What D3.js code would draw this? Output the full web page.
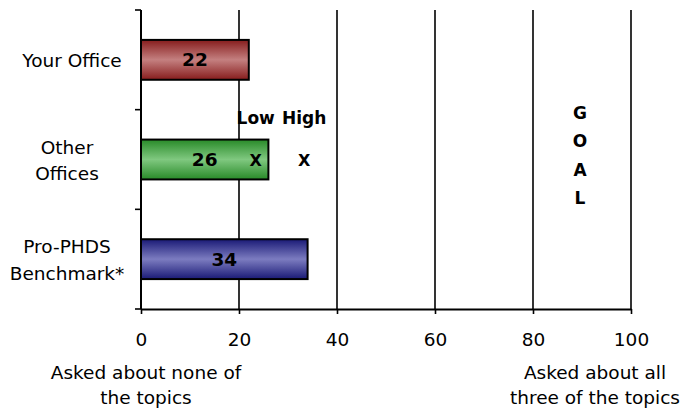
<!DOCTYPE html>
<html><head><meta charset="utf-8">
<script src="https://cdn.jsdelivr.net/npm/d3@7"></script>
<style>
body{margin:0;background:#fff;}
svg{display:block;}
text{font-family:"DejaVu Sans",sans-serif;fill:#000;}
</style></head><body>
<script>
const categories = ["Your Office", "Other Offices", "Pro-PHDS Benchmark*"];
const categoryLines = [["Your Office"], ["Other", "Offices"], ["Pro-PHDS", "Benchmark*"]];
const values = [22, 26, 34];
const xTicks = [0, 20, 40, 60, 80, 100];
const rangeMarkers = [{label: "Low", value: 23.4}, {label: "High", value: 33.3}];
const goalLetters = ["G", "O", "A", "L"];
const bottomLeft = ["Asked about none of", "the topics"];
const bottomRight = ["Asked about all", "three of the topics"];
const colors = [
  {edge: "#861c1c", mid: "#c48080"},
  {edge: "#288a28", mid: "#80c880"},
  {edge: "#1a1a76", mid: "#7c7cc0"}
];

const W = 681, H = 411;
const FS = 18.5;
const svg = d3.select("body").append("svg").attr("width", W).attr("height", H);
const x = d3.scaleLinear().domain([0, 100]).range([141, 631]);
const y = d3.scaleBand().domain(categories).range([10, 309]).paddingInner(0.6).paddingOuter(0.3);

const defs = svg.append("defs");
colors.forEach((c, i) => {
  const g = defs.append("linearGradient").attr("id", "g" + i).attr("x1", 0).attr("x2", 0).attr("y1", 0).attr("y2", 1);
  g.append("stop").attr("offset", "0%").attr("stop-color", c.edge);
  g.append("stop").attr("offset", "50%").attr("stop-color", c.mid);
  g.append("stop").attr("offset", "100%").attr("stop-color", c.edge);
});

// gridlines
svg.append("g").selectAll("line").data(xTicks.filter(d => d > 0)).join("line")
  .attr("x1", d => x(d)).attr("x2", d => x(d)).attr("y1", 10).attr("y2", 309)
  .attr("stroke", "#000").attr("stroke-width", 1.6);

// x axis
const xAxis = svg.append("g").attr("transform", "translate(0,309)")
  .call(d3.axisBottom(x).tickValues(xTicks).tickSize(5).tickSizeOuter(0));
xAxis.select(".domain").attr("stroke-width", 2);
xAxis.selectAll(".tick line").attr("stroke-width", 1.6);
xAxis.selectAll(".tick text").attr("font-size", FS).attr("font-family", "DejaVu Sans")
  .attr("y", 31).attr("dy", "0.35em");

// y axis line and ticks
const yTicks = [10, 10 + 299 / 3, 10 + 2 * 299 / 3, 309];
svg.append("line").attr("x1", x(0)).attr("x2", x(0)).attr("y1", 10).attr("y2", 309).attr("stroke", "#000").attr("stroke-width", 2);
svg.append("g").selectAll("line").data(yTicks).join("line")
  .attr("x1", x(0) - 6).attr("x2", x(0)).attr("y1", d => d).attr("y2", d => d)
  .attr("stroke", "#000").attr("stroke-width", 1.6);

// category labels
categories.forEach((c, i) => {
  const lines = categoryLines[i];
  const cy = y(c) + y.bandwidth() / 2 + 1;
  const lh = 26.5;
  const cx = lines.length === 1 ? 72 : 67;
  const t = svg.append("text").attr("text-anchor", "middle").attr("font-size", FS);
  lines.forEach((l, j) => {
    t.append("tspan").attr("x", cx).attr("y", cy + (j - (lines.length - 1) / 2) * lh).attr("dy", "0.35em").text(l);
  });
});

// bars
svg.append("g").selectAll("rect").data(values).join("rect")
  .attr("x", x(0)).attr("y", (d, i) => y(categories[i]))
  .attr("width", d => x(d) - x(0)).attr("height", y.bandwidth())
  .attr("fill", (d, i) => `url(#g${i})`).attr("stroke", "#000").attr("stroke-width", 2);

svg.append("g").selectAll("text").data(values).join("text")
  .attr("x", d => (x(0) + x(d)) / 2).attr("y", (d, i) => y(categories[i]) + y.bandwidth() / 2)
  .attr("dy", "0.36em").attr("text-anchor", "middle").attr("font-weight", "bold").attr("font-size", 18.5)
  .text(d => d);

// range markers (Other Offices)
const my = y(categories[1]) + y.bandwidth() / 2 + 1;
svg.append("g").selectAll("text").data(rangeMarkers).join("text")
  .attr("x", d => x(d.value)).attr("y", my).attr("dy", "0.36em").attr("text-anchor", "middle")
  .attr("font-weight", "bold").attr("font-size", 16).text("X");
svg.append("g").selectAll("text").data(rangeMarkers).join("text")
  .attr("x", d => x(d.value)).attr("y", 118).attr("dy", "0.36em").attr("text-anchor", "middle")
  .attr("font-weight", "bold").attr("font-size", 17).text(d => d.label);

// GOAL
svg.append("g").selectAll("text").data(goalLetters).join("text")
  .attr("x", 580).attr("y", (d, i) => 113 + i * 28.2).attr("dy", "0.36em").attr("text-anchor", "middle")
  .attr("font-weight", "bold").attr("font-size", 17).text(d => d);

// bottom captions
[[bottomLeft, 146], [bottomRight, 595]].forEach(([lines, cx]) => {
  lines.forEach((l, j) => {
    svg.append("text").attr("x", cx).attr("y", 373 + j * 25).attr("dy", "0.35em")
      .attr("text-anchor", "middle").attr("font-size", FS).text(l);
  });
});
</script></body></html>
